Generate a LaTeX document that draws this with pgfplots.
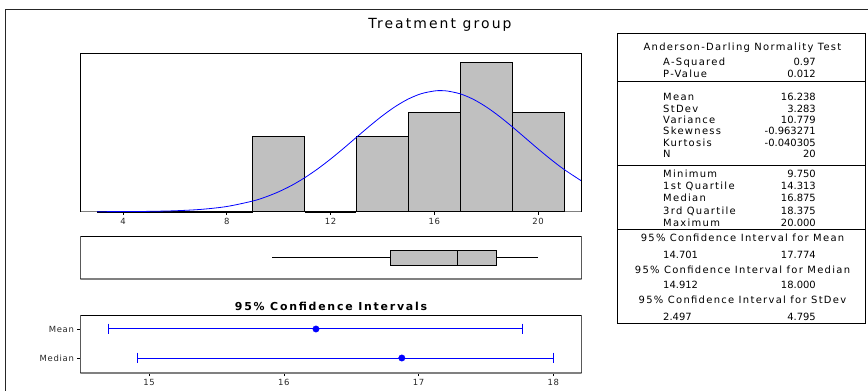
\documentclass[border=0pt]{standalone}
\usepackage{fontspec}
\setmainfont{DejaVu Sans}
\newfontfamily\tabfont[LetterSpace=13]{DejaVu Sans}
\newfontfamily\numfont{DejaVu Sans}
\newfontfamily\titfont[LetterSpace=15]{DejaVu Sans}
\newfontfamily\citfont[LetterSpace=16]{DejaVu Sans Bold}
\newfontfamily\tickfont[LetterSpace=8]{DejaVu Sans}
\usepackage{pgfplots}
\pgfplotsset{compat=1.18}
\usepgfplotslibrary{statistics}
\definecolor{bargray}{RGB}{192,192,192}
\definecolor{axgray}{RGB}{128,128,128}
\definecolor{mtblue}{RGB}{0,0,255}
\pgfplotstableread{
x y
3 0
5 0
7 0
9 3
11 0
13 3
15 4
17 6
19 4
21 0
}\histdata
\begin{document}
\begin{tikzpicture}
\useasboundingbox (0,0) rectangle (868bp,-391bp);
\pgfplotsset{panel/.style={scale only axis, width=501.3bp, axis line style={draw=none},
  ticklabel style={font=\tickfont\fontsize{8.5}{9}\selectfont, text=black!85},
  /pgf/number format/assume math mode=true,
  tick align=outside, major tick length=3bp, tick style={black, line width=0.6bp}}}
% histogram
\begin{axis}[panel, at={(80.4bp,-53.3bp)}, anchor=north west, height=158.4bp, clip=false,
  xmin=2.36, xmax=21.68, ymin=0, ymax=6.36, ytick=\empty, xtick={4,8,12,16,20}, xtick pos=bottom]
\draw[axgray, line width=1.5bp] (rel axis cs:0,0) -- (rel axis cs:1,0);
\addplot[ybar interval, fill=bargray, draw=black, line width=1bp] table[x=x,y=y] {\histdata};
\addplot[black, line width=1.6bp] coordinates {(3,0)(9,0)};
\addplot[black, line width=1.6bp] coordinates {(11,0)(13,0)};
\addplot[mtblue, line width=0.8bp, smooth] coordinates {
(3,0.0014)(4,0.0047)(5,0.0139)(6,0.0376)(7,0.0927)(8,0.2087)(9,0.4279)(9.5,0.5916)
(10,0.7997)(10.5,1.055)(11,1.361)(11.5,1.716)(12,2.113)(12.5,2.542)(13,2.989)(13.5,3.433)
(14,3.853)(14.5,4.225)(15,4.527)(15.5,4.740)(16,4.848)(16.238,4.861)(16.5,4.846)(17,4.732)
(17.5,4.515)(18,4.209)(18.5,3.834)(19,3.412)(19.5,2.967)(20,2.521)(20.5,2.093)(21,1.698)(21.68,1.230)};
\draw[black, line width=0.8bp] (rel axis cs:0,0) -- (rel axis cs:0,1) -- (rel axis cs:1,1) -- (rel axis cs:1,0);
\end{axis}
% boxplot
\begin{axis}[panel, at={(80.4bp,-236.7bp)}, anchor=north west, height=42.3bp,
  xmin=2.36, xmax=21.68, ymin=0, ymax=1, xtick=\empty, ytick=\empty]
\draw[axgray, line width=1.5bp] (rel axis cs:0,0) -- (rel axis cs:1,0);
\addplot[fill=bargray, draw=black, line width=0.8bp, boxplot prepared={lower whisker=9.75, lower quartile=14.313, median=16.875, upper quartile=18.375, upper whisker=20, draw position=0.5, box extend=0.338, whisker extend=0, draw direction=x}] coordinates {};
\draw[black, line width=0.8bp] (rel axis cs:0,0) -- (rel axis cs:0,1) -- (rel axis cs:1,1) -- (rel axis cs:1,0);
\end{axis}
% confidence intervals
\begin{axis}[panel, at={(80.4bp,-315.7bp)}, anchor=north west, height=57.3bp,
  xmin=14.49, xmax=18.21, ymin=0, ymax=1, xtick={15,16,17,18}, xtick pos=bottom, ytick pos=left,
  ytick={0.2618,0.768}, yticklabels={Median,Mean}]
\draw[axgray, line width=1.5bp] (rel axis cs:0,0) -- (rel axis cs:1,0);
\draw[black, line width=0.8bp] (rel axis cs:0,0) -- (rel axis cs:0,1) -- (rel axis cs:1,1) -- (rel axis cs:1,0);
\addplot[color=mtblue, line width=1bp, mark=none] coordinates {(14.701,0.768)(17.774,0.768)};
\addplot[color=mtblue, line width=1bp, mark=none] coordinates {(14.912,0.2618)(18.000,0.2618)};
\addplot[color=mtblue, only marks, mark=|, mark size=5.3bp, line width=1bp] coordinates {(14.701,0.768)(17.774,0.768)(14.912,0.2618)(18.000,0.2618)};
\addplot[color=mtblue, only marks, mark=*, mark size=3.2bp] coordinates {(16.238,0.768)(16.875,0.2618)};
\end{axis}
\begin{scope}[x=1bp,y=-1bp]
\draw[line width=0.8bp, black!85] (5.7,391) -- (5.7,9.3) -- (868,9.3);
\node[font=\titfont\fontsize{14}{16}\selectfont] at (440,24.5) {Treatment group};
\node[font=\citfont\fontsize{11}{12}\selectfont] at (331,306) {95\% Confidence Intervals};
% table
\draw[line width=0.9bp] (617,33.3) rectangle (865,323.3);
\draw[line width=0.9bp] (617,81.7) -- (865,81.7);
\draw[line width=0.9bp] (617,165) -- (865,165);
\draw[line width=0.9bp] (617,229.3) -- (865,229.3);
\begin{scope}[every node/.style={font=\tabfont\fontsize{10}{11}\selectfont, inner sep=0pt}]
\tikzset{v/.style={font=\numfont\fontsize{10}{11}\selectfont}}
\node[anchor=base] at (742.5,50.2) {Anderson-Darling Normality Test};
\node[anchor=base west] at (663,65.2) {A-Squared}; \node[v,anchor=base east] at (816,65.2) {0.97};
\node[anchor=base west] at (663,77.7) {P-Value}; \node[v,anchor=base east] at (816,77.7) {0.012};
\node[anchor=base west] at (663,100.7) {Mean}; \node[v,anchor=base east] at (816,100.7) {16.238};
\node[anchor=base west] at (663,112.7) {StDev}; \node[v,anchor=base east] at (816,112.7) {3.283};
\node[anchor=base west] at (663,123.7) {Variance}; \node[v,anchor=base east] at (816,123.7) {10.779};
\node[anchor=base west] at (663,134.7) {Skewness}; \node[v,anchor=base east] at (816,134.7) {-0.963271};
\node[anchor=base west] at (663,146.2) {Kurtosis}; \node[v,anchor=base east] at (816,146.2) {-0.040305};
\node[anchor=base west] at (663,157.7) {N}; \node[v,anchor=base east] at (816,157.7) {20};
\node[anchor=base west] at (663,177.7) {Minimum}; \node[v,anchor=base east] at (816,177.7) {9.750};
\node[anchor=base west] at (663,189.7) {1st Quartile}; \node[v,anchor=base east] at (816,189.7) {14.313};
\node[anchor=base west] at (663,201.7) {Median}; \node[v,anchor=base east] at (816,201.7) {16.875};
\node[anchor=base west] at (663,214.2) {3rd Quartile}; \node[v,anchor=base east] at (816,214.2) {18.375};
\node[anchor=base west] at (663,226.2) {Maximum}; \node[v,anchor=base east] at (816,226.2) {20.000};
\node[anchor=base] at (742.5,241.4) {95\% Confidence Interval for Mean};
\node[v,anchor=base west] at (663,258) {14.701}; \node[v,anchor=base east] at (816,258) {17.774};
\node[anchor=base] at (742.5,273.7) {95\% Confidence Interval for Median};
\node[v,anchor=base west] at (663,288.4) {14.912}; \node[v,anchor=base east] at (816,288.4) {18.000};
\node[anchor=base] at (742.5,303.7) {95\% Confidence Interval for StDev};
\node[v,anchor=base west] at (663,320.4) {2.497}; \node[v,anchor=base east] at (816,320.4) {4.795};
\end{scope}
\end{scope}
\end{tikzpicture}
\end{document}
